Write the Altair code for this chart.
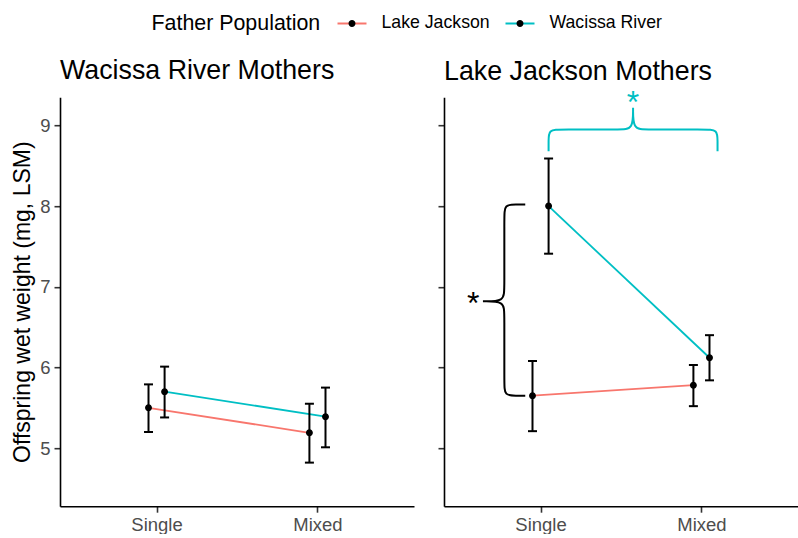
import altair as alt
import pandas as pd

# ---- data -------------------------------------------------------------
crosses = ["Single", "Mixed"]
fathers = ["Lake Jackson", "Wacissa River"]
father_colors = ["#F8766D", "#00BFC4"]
mother_titles = ["Wacissa River Mothers", "Lake Jackson Mothers"]

# Offspring wet weight (least-squares means) with error-bar limits,
# each list ordered as crosses (Single, Mixed)
wr_mothers_lj_mean = [5.50, 5.19]
wr_mothers_lj_lo = [5.20, 4.82]
wr_mothers_lj_hi = [5.79, 5.55]
wr_mothers_wr_mean = [5.70, 5.39]
wr_mothers_wr_lo = [5.38, 5.01]
wr_mothers_wr_hi = [6.01, 5.75]

lj_mothers_lj_mean = [5.65, 5.78]
lj_mothers_lj_lo = [5.21, 5.52]
lj_mothers_lj_hi = [6.08, 6.03]
lj_mothers_wr_mean = [8.00, 6.12]
lj_mothers_wr_lo = [7.41, 5.84]
lj_mothers_wr_hi = [8.59, 6.40]

# significance braces (x in cross-index units, y in mg)
cyan_brace_x = [1.05, 1.05, 1.05, 1.125, 1.50, 1.575, 1.575, 1.575, 1.575,
                1.575, 1.65, 2.025, 2.10, 2.10, 2.10]
cyan_brace_y = [8.68, 8.80, 8.95, 8.95, 8.95, 8.95, 9.22, 9.22, 9.22,
                8.95, 8.95, 8.95, 8.95, 8.80, 8.68]
black_brace_x = [0.905, 0.85, 0.775, 0.775, 0.775, 0.775, 0.642, 0.642, 0.642,
                 0.775, 0.775, 0.775, 0.775, 0.85, 0.905]
black_brace_y = [8.02, 8.02, 8.02, 7.87, 6.97, 6.82, 6.82, 6.82, 6.82,
                 6.82, 6.67, 5.80, 5.65, 5.65, 5.65]
star_x = [1.575, 0.582]
star_y = [9.31, 6.82]
star_colors = ["#00BFC4", "black"]

# ---- styling ----------------------------------------------------------
FONT = "Liberation Sans"
DODGE = {"Lake Jackson": -0.05, "Wacissa River": 0.05}
X_DOMAIN = [0.4, 2.6]
Y_DOMAIN = [4.28, 9.35]
PANEL_W, PANEL_H = 354, 409
# legend dot drawn over the line symbol; the invisible -1..1 segment keeps
# its extent equal to the line symbol so both legends line up
DOT_PATH = "M-1,0L1,0M0.24,0A0.24,0.24,0,1,1,-0.24,0A0.24,0.24,0,1,1,0.24,0Z"
SYMBOL_SIZE = 841
LEGEND_X, LEGEND_Y = 91.5, -89.6


def build_rows(means, los, his, father, mother):
    rows = []
    for i, cross in enumerate(crosses):
        rows.append({
            "mother": mother, "father": father, "father_dot": father, "cross": cross,
            "mean": means[i], "lo": los[i], "hi": his[i],
            "pos": i + 1 + DODGE[father],
        })
    return rows


wr_df = pd.DataFrame(
    build_rows(wr_mothers_lj_mean, wr_mothers_lj_lo, wr_mothers_lj_hi, fathers[0], mother_titles[0])
    + build_rows(wr_mothers_wr_mean, wr_mothers_wr_lo, wr_mothers_wr_hi, fathers[1], mother_titles[0])
)
lj_df = pd.DataFrame(
    build_rows(lj_mothers_lj_mean, lj_mothers_lj_lo, lj_mothers_lj_hi, fathers[0], mother_titles[1])
    + build_rows(lj_mothers_wr_mean, lj_mothers_wr_lo, lj_mothers_wr_hi, fathers[1], mother_titles[1])
)

label_expr = " : ".join(
    f"datum.value == {i + 1} ? '{c}'" for i, c in enumerate(crosses)
) + " : ''"


def x_enc(field, show_labels):
    return alt.X(
        field,
        type="quantitative",
        scale=alt.Scale(domain=X_DOMAIN, nice=False, zero=False),
        axis=alt.Axis(values=[1, 2], labelExpr=label_expr, title=None,
                      grid=False, labelPadding=3),
    )


def y_enc(field, show_labels):
    return alt.Y(
        field,
        type="quantitative",
        scale=alt.Scale(domain=Y_DOMAIN, nice=False, zero=False),
        axis=alt.Axis(values=[5, 6, 7, 8, 9], grid=False,
                      labels=show_labels, labelPadding=4,
                      title="Offspring wet weight (mg, LSM)" if show_labels else None,
                      titlePadding=5),
    )


legend_common = dict(
    title="Father Population", orient="none", legendX=LEGEND_X, legendY=LEGEND_Y,
    direction="horizontal", titleOrient="left", titlePadding=16,
    titleBaseline="line-top", titleLineHeight=8,
    symbolSize=SYMBOL_SIZE, symbolStrokeWidth=2,
    labelOffset=14, columnPadding=11,
)
color_legend = alt.Legend(symbolType="stroke", **legend_common)
dot_legend = alt.Legend(
    symbolFillColor="black", symbolStrokeColor="transparent", symbolOpacity=1,
    titleColor="transparent", labelColor="transparent", **legend_common,
)


def panel(df, title, show_labels, braces, title_offset):
    base = alt.Chart(df)
    x = x_enc("pos", show_labels)
    lines = base.mark_line(strokeWidth=1.8).encode(
        x=x, y=y_enc("mean", show_labels),
        color=alt.Color("father:N", scale=alt.Scale(domain=fathers, range=father_colors),
                        legend=color_legend),
        detail="father:N",
    )
    bars = base.mark_rule(color="black", strokeWidth=2).encode(
        x=x, y=y_enc("lo", show_labels), y2="hi:Q",
    )
    cap_lo = base.mark_tick(color="black", thickness=2, size=9, orient="horizontal",
                            opacity=1).encode(x=x, y=y_enc("lo", show_labels))
    cap_hi = base.mark_tick(color="black", thickness=2, size=9, orient="horizontal",
                            opacity=1).encode(x=x, y=y_enc("hi", show_labels))
    # the dot scale takes its (identical, sorted) domain from the data column
    points = base.mark_point(filled=True, color="black", opacity=1, size=SYMBOL_SIZE,
                             strokeWidth=0).encode(
        x=x, y=y_enc("mean", show_labels),
        shape=alt.Shape("father_dot:N",
                        scale=alt.Scale(range=[DOT_PATH, DOT_PATH]),
                        legend=dot_legend),
    )
    layers = [lines, bars, cap_lo, cap_hi, points]
    for bx, by, col in braces:
        bdf = pd.DataFrame({"bx": bx, "by": by, "i": list(range(len(bx)))})
        layers.append(
            alt.Chart(bdf).mark_line(interpolate="basis", color=col, strokeWidth=2).encode(
                x=x_enc("bx", show_labels), y=y_enc("by", show_labels), order="i:Q"
            )
        )
    if braces:
        sdf = pd.DataFrame({"sx": star_x, "sy": star_y, "c": star_colors})
        layers.append(
            alt.Chart(sdf).mark_text(text="*", fontSize=32, baseline="alphabetic",
                                     align="center", dy=13).encode(
                x=x_enc("sx", show_labels), y=y_enc("sy", show_labels),
                color=alt.Color("c:N", scale=None, legend=None),
            )
        )
    return alt.layer(*layers).properties(
        width=PANEL_W, height=PANEL_H,
        title=alt.TitleParams(title, anchor="start", frame="group", fontSize=26.8,
                              fontWeight="normal", font=FONT, color="black",
                              offset=title_offset),
    )


left = panel(wr_df, mother_titles[0], True, [], 12.5)
right = panel(lj_df, mother_titles[1], False,
              [(cyan_brace_x, cyan_brace_y, "#00BFC4"),
               (black_brace_x, black_brace_y, "black")], 2)

chart = (
    alt.hconcat(left, right, spacing=23)
    .resolve_scale(color="shared", shape="shared")
    .resolve_legend(color="shared", shape="shared")
    .properties(padding={"left": 11, "top": 7.2, "right": 0, "bottom": 0})
    .configure(font=FONT)
    .configure_view(strokeWidth=0)
    .configure_axis(
        domainColor="black", domainWidth=1.6, tickColor="#333333", tickWidth=1.6,
        tickSize=6, labelColor="#4D4D4D", labelFontSize=18.5, labelFont=FONT,
        titleFont=FONT, titleFontSize=23, titleFontWeight="normal", titleColor="black",
    )
    .configure_legend(
        titleFont=FONT, titleFontSize=21.4, titleFontWeight="normal", titleColor="black",
        labelFont=FONT, labelFontSize=17.7, labelColor="black",
    )
)

chart.save("out.html", embed_options={"renderer": "svg", "actions": False})
